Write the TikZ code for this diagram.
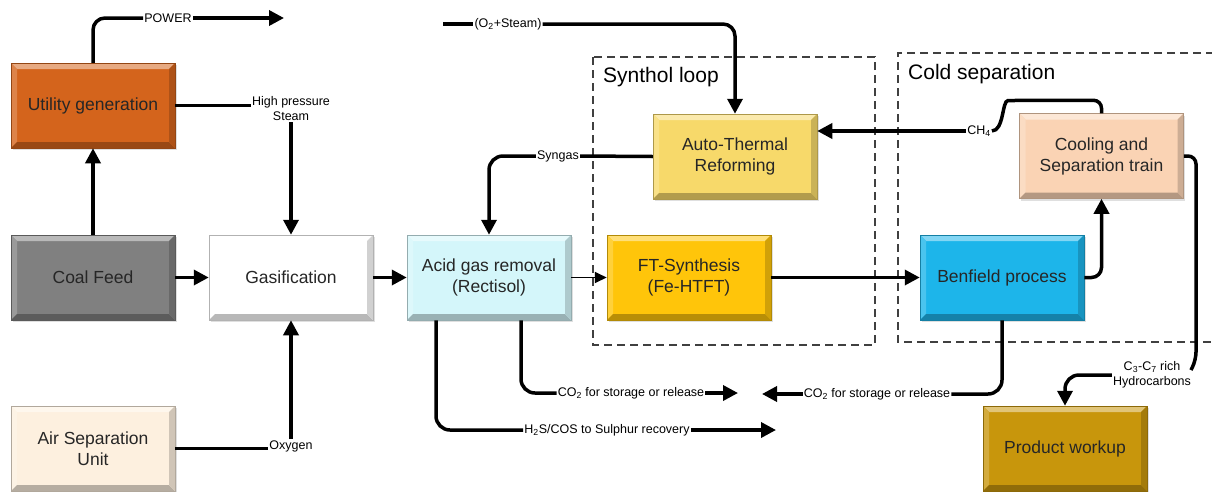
\documentclass[tikz,border=0pt]{standalone}
\usepackage{fontspec}
\setmainfont{Liberation Sans}
\usetikzlibrary{arrows.meta,shadows}
\definecolor{cUtil}{HTML}{D4641C}
\definecolor{cCoal}{HTML}{808080}
\definecolor{cGas}{HTML}{FFFFFF}
\definecolor{cAsu}{HTML}{FDF0DF}
\definecolor{cAgr}{HTML}{D4F6FA}
\definecolor{cFt}{HTML}{FFC50A}
\definecolor{cAtr}{HTML}{F7D96A}
\definecolor{cCool}{HTML}{FAD3B4}
\definecolor{cBen}{HTML}{1DB5EA}
\definecolor{cProd}{HTML}{C8960C}
\definecolor{cGrp}{HTML}{404040}
\tikzset{
  bevel/.style={
    rectangle, inner sep=0pt, minimum width=164pt, minimum height=85pt,
    fill=#1, draw=#1!70!black, line width=0.5pt,
    font=\fontsize{17.5}{21}\selectfont, text=black!85, align=center,
    drop shadow={shadow xshift=1.5pt, shadow yshift=-2pt, opacity=0.25},
    path picture={
      \fill[#1!55!white] (path picture bounding box.north west) -- (path picture bounding box.north east)
        -- ([shift={(-6pt,-6pt)}]path picture bounding box.north east) -- ([shift={(6pt,-6pt)}]path picture bounding box.north west) -- cycle;
      \fill[#1!80!white] (path picture bounding box.north west) -- (path picture bounding box.south west)
        -- ([shift={(6pt,6pt)}]path picture bounding box.south west) -- ([shift={(6pt,-6pt)}]path picture bounding box.north west) -- cycle;
      \fill[#1!72!black] (path picture bounding box.south west) -- (path picture bounding box.south east)
        -- ([shift={(-6pt,6pt)}]path picture bounding box.south east) -- ([shift={(6pt,6pt)}]path picture bounding box.south west) -- cycle;
      \fill[#1!82!black] (path picture bounding box.north east) -- (path picture bounding box.south east)
        -- ([shift={(-6pt,6pt)}]path picture bounding box.south east) -- ([shift={(-6pt,-6pt)}]path picture bounding box.north east) -- cycle;
    }
  },
  line/.style={line width=3.5pt, black},
  arr/.style={line, -{Triangle[length=15pt,width=15pt]}},
  thinarr/.style={line width=1.8pt, black, -{Triangle[length=12pt,width=11pt]}},
  lbl/.style={fill=white, inner sep=1pt, font=\fontsize{12.5}{15}\selectfont},
  grp/.style={draw=cGrp, line width=1.2pt, dash pattern=on 8pt off 5pt},
  grplbl/.style={font=\fontsize{21}{25}\selectfont, anchor=west, inner sep=0pt},
}
\begin{document}
\begin{tikzpicture}[x=1pt,y=-1pt]
\useasboundingbox (0,0) rectangle (1212,491);
% group frames
\draw[grp] (593,57) rectangle (875,345);
\node[grplbl] (synlbl) at (603,77) {Synthol loop};
\draw[grp] (1214,53) -- (898,53) -- (898,342) -- (1214,342);
\node[grplbl] (coldlbl) at (908,74) {Cold separation};
% boxes
\node[bevel=cUtil] (util) at (93,105.5) {Utility generation};
\node[bevel=cCoal] (coal) at (93,277.5) {Coal Feed};
\node[bevel=cGas] (gas) at (291,277.5) {Gasification};
\node[bevel=cAsu] (asu) at (93,448.5) {Air Separation\\Unit};
\node[bevel=cAgr] (agr) at (489,277.5) {Acid gas removal\\(Rectisol)};
\node[bevel=cFt] (ft) at (689,277.5) {FT-Synthesis\\(Fe-HTFT)};
\node[bevel=cAtr] (atr) at (735,156.5) {Auto-Thermal\\Reforming};
\node[bevel=cCool] (cool) at (1101.5,156) {Cooling and\\Separation train};
\node[bevel=cBen] (ben) at (1002,277.5) {Benfield process};
\node[bevel=cProd] (prod) at (1065,448.5) {Product workup};
% labels
\node[lbl] (power) at (168,18) {POWER};
\coordinate (pwend) at (284,18);
\node[lbl, align=center] (hps) at (291,109) {High pressure\\Steam};
\node[lbl] (oxy) at (291,446) {Oxygen};
\coordinate (o2in) at (443,24);
\node[lbl] (o2s) at (508,24) {(O\textsubscript{2}+Steam)};
\node[lbl] (syn) at (558,156) {Syngas};
\node[lbl] (ch4) at (979,131) {CH\textsubscript{4}};
\node[lbl, align=center] (c37) at (1152,375) {C\textsubscript{3}-C\textsubscript{7} rich\\Hydrocarbons};
\coordinate (hydend) at (1191,370);
\node[lbl] (co2b) at (877,394) {CO\textsubscript{2} for storage or release};
\coordinate (co2bend) at (762,394);
\node[lbl] (co2a) at (631,393) {CO\textsubscript{2} for storage or release};
\coordinate (co2aend) at (738,393);
\node[lbl] (h2s) at (607,430) {H\textsubscript{2}S/COS to Sulphur recovery};
\coordinate (h2send) at (776,430);
% connectors
\draw[line, rounded corners=12pt] (util.north) |- (power.west);
\draw[arr] (power.east) -- (pwend);
\draw[line] (util.east) -- (util.east -| hps.west);
\draw[arr] (hps.south) -- (gas.north);
\draw[arr] (coal.north) -- (util.south);
\draw[arr] (coal.east) -- (gas.west);
\draw[arr] (gas.east) -- (agr.west);
\draw[line] (asu.east) -- (asu.east -| oxy.west);
\draw[arr] (oxy.north) -- (gas.south);
\draw[line] (o2in) -- (o2s.west);
\draw[arr, rounded corners=12pt] (o2s.east) -| (atr.north);
\draw[line] (atr.west) -- (syn.east);
\draw[arr, rounded corners=14pt] (syn.west) -| (agr.north);
\draw[thinarr] (agr.east) -- (ft.west);
\draw[arr] (ft.east) -- (ben.west);
\draw[arr, rounded corners=10pt] (ben.east) -| (cool.south);
\draw[line, rounded corners=8pt] (cool.north) -- ++(0,-13) -- (1016,100.5) .. controls (1002,100.5) and (1004,131) .. (ch4.east);
\draw[arr] (ch4.west) -- (ch4.west -| atr.east);
\draw[line, rounded corners=8pt] (cool.east) -| (1196,360) -- (hydend);
\draw[arr, rounded corners=14pt] (c37.west) -| (prod.north);
\draw[line, rounded corners=14pt] (ben.south) |- (co2b.east);
\draw[arr] (co2b.west) -- (co2bend);
\draw[line, rounded corners=14pt] ([xshift=32pt]agr.south) |- (co2a.west);
\draw[arr] (co2a.east) -- (co2aend);
\draw[line, rounded corners=14pt] ([xshift=-53pt]agr.south) |- (h2s.west);
\draw[arr] (h2s.east) -- (h2send);
\end{tikzpicture}
\end{document}
